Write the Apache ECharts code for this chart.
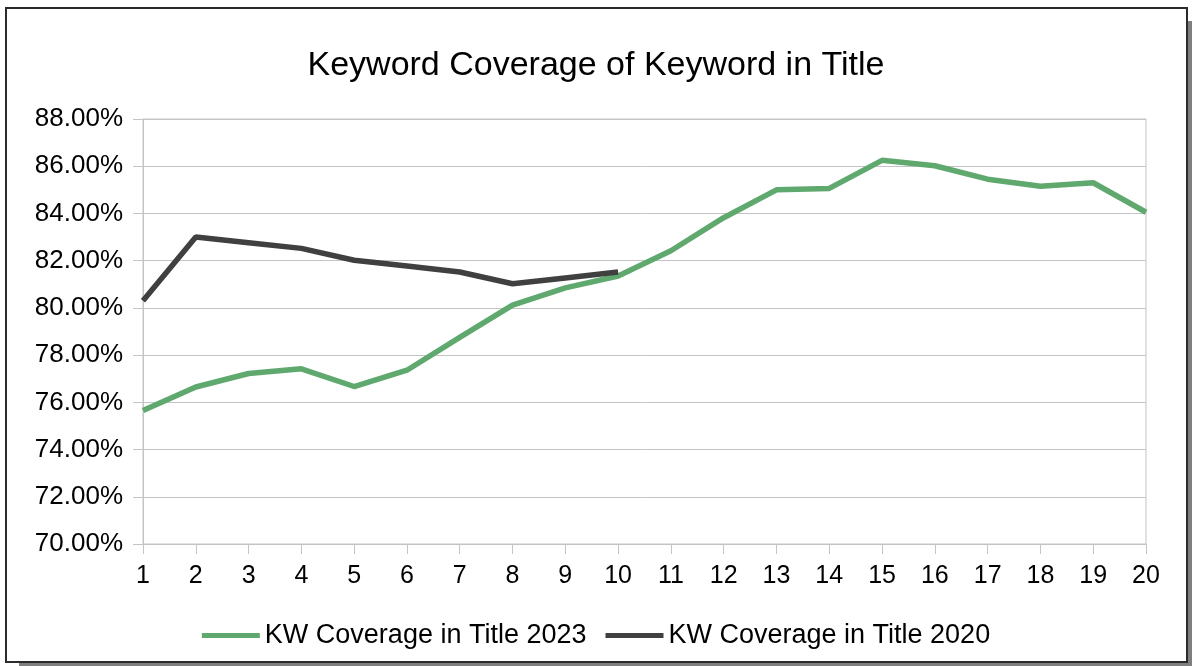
<!DOCTYPE html>
<html>
<head>
<meta charset="utf-8">
<script src="https://cdn.jsdelivr.net/npm/echarts@6/dist/echarts.min.js"></script>
<style>
  html, body { margin: 0; padding: 0; background: #ffffff; }
  #chart { width: 1192px; height: 666px; }
</style>
</head>
<body>
<div id="chart"></div>
<script>
// Ranks 1–20
const positions = ['1','2','3','4','5','6','7','8','9','10','11','12','13','14','15','16','17','18','19','20'];

// Share of keywords appearing in the title (%), per rank
const coverage2023 = [75.65, 76.65, 77.22, 77.42, 76.67, 77.36, 78.75, 80.12, 80.85, 81.35,
                      82.42, 83.82, 85.0, 85.06, 86.25, 86.02, 85.45, 85.15, 85.3, 84.05];
const coverage2020 = [80.3, 83.0, 82.76, 82.52, 82.02, 81.77, 81.52, 81.02, 81.27, 81.52];

const seriesNames = ['KW Coverage in Title 2023', 'KW Coverage in Title 2020'];
const chartTitle = 'Keyword Coverage of Keyword in Title';

const FONT = '"Liberation Sans", Arial, sans-serif';

const chart = echarts.init(document.getElementById('chart'), null, { renderer: 'canvas' });

chart.setOption({
  animation: false,
  backgroundColor: '#ffffff',
  graphic: {
    elements: [
      // drop shadow behind the chart frame
      { type: 'rect', z: -20, silent: true,
        shape: { x: 19, y: 21, width: 1173, height: 645 },
        style: { fill: '#7f7f7f' } },
      // chart frame
      { type: 'rect', z: -10, silent: true,
        shape: { x: 6, y: 8, width: 1181, height: 654 },
        style: { fill: '#ffffff', stroke: '#2b2b2b', lineWidth: 2 } }
    ]
  },
  title: {
    text: chartTitle,
    left: 'center',
    top: 44,
    textStyle: { fontFamily: FONT, fontSize: 34, fontWeight: 'normal', color: '#000000' }
  },
  grid: {
    left: 143, right: 46, top: 119, bottom: 122,
    show: true, borderColor: '#c4c4c4', borderWidth: 1, backgroundColor: 'transparent'
  },
  legend: {
    bottom: 12,
    left: 'center',
    icon: 'rect',
    itemWidth: 58,
    itemHeight: 5,
    itemGap: 19,
    textStyle: { fontFamily: FONT, fontSize: 27, color: '#000000', padding: [0, 0, 0, 0] },
    data: seriesNames
  },
  xAxis: {
    type: 'category',
    data: positions,
    boundaryGap: false,
    axisLine: { lineStyle: { color: '#c4c4c4', width: 1 } },
    axisTick: { show: true, length: 10, lineStyle: { color: '#c4c4c4' } },
    axisLabel: { fontFamily: FONT, fontSize: 25, color: '#000000', margin: 20, interval: 0 },
    splitLine: { show: false }
  },
  yAxis: {
    type: 'value',
    min: 70,
    max: 88,
    interval: 2,
    axisLine: { show: true, lineStyle: { color: '#c4c4c4', width: 1 } },
    axisTick: { show: true, length: 10, lineStyle: { color: '#c4c4c4' } },
    axisLabel: {
      fontFamily: FONT, fontSize: 26, color: '#000000', margin: 20,
      formatter: v => v.toFixed(2) + '%'
    },
    splitLine: { show: true, lineStyle: { color: '#c4c4c4', width: 1 } }
  },
  series: [
    {
      name: seriesNames[0],
      type: 'line',
      data: coverage2023,
      symbol: 'none',
      lineStyle: { color: '#5fa96f', width: 5.5 },
      itemStyle: { color: '#5fa96f' },
      z: 2
    },
    {
      name: seriesNames[1],
      type: 'line',
      data: coverage2020,
      symbol: 'none',
      lineStyle: { color: '#404040', width: 5.5 },
      itemStyle: { color: '#404040' },
      z: 3
    }
  ]
});
</script>
</body>
</html>
